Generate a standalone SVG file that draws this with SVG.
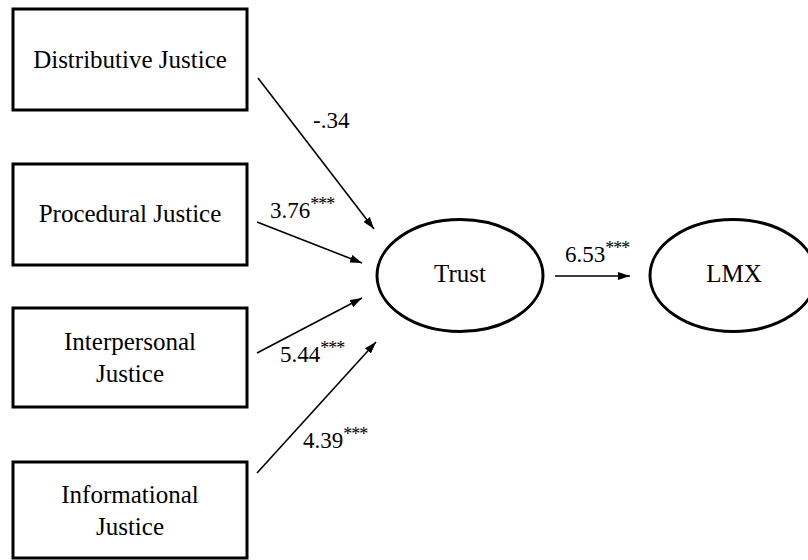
<svg xmlns="http://www.w3.org/2000/svg" width="808" height="560" viewBox="0 0 808 560">
<style>
.box{fill:#fff;stroke:#000;stroke-width:3}
.ell{fill:#fff;stroke:#000;stroke-width:3}
.t{font-family:"Liberation Serif","Times New Roman",serif;font-size:25px;fill:#000;text-anchor:middle}
.lbl{font-family:"Liberation Serif","Times New Roman",serif;font-size:23px;fill:#000}
.sup{font-size:18px;letter-spacing:-1px}
.edge{stroke:#000;stroke-width:1.6;fill:none;marker-end:url(#ah)}
</style>
<defs>
<marker id="ah" viewBox="0 0 12 8" refX="12" refY="4" markerWidth="12" markerHeight="8" markerUnits="userSpaceOnUse" orient="auto">
<path d="M0,0 L12,4 L0,8 Z" fill="#000"/>
</marker>
</defs>
<rect width="808" height="560" fill="#fff"/>
<g id="distributive"><rect class="box" x="13" y="9" width="234" height="101"/><text class="t" x="130" y="68">Distributive Justice</text></g>
<g id="procedural"><rect class="box" x="13" y="164" width="234" height="101"/><text class="t" x="130" y="222">Procedural Justice</text></g>
<g id="interpersonal"><rect class="box" x="13" y="308" width="234" height="99"/><text class="t" x="130" y="350">Interpersonal</text><text class="t" x="130" y="382">Justice</text></g>
<g id="informational"><rect class="box" x="13" y="462" width="234" height="96"/><text class="t" x="130" y="503">Informational</text><text class="t" x="130" y="535">Justice</text></g>
<g id="trust"><ellipse class="ell" cx="460" cy="275.5" rx="83" ry="56"/><text class="t" x="460" y="282">Trust</text></g>
<g id="lmx"><ellipse class="ell" cx="733" cy="275.5" rx="83" ry="56"/><text class="t" x="734" y="282">LMX</text></g>
<g id="connectors">
<line class="edge" x1="258" y1="78" x2="374" y2="229"/>
<line class="edge" x1="257" y1="222" x2="362" y2="263"/>
<line class="edge" x1="257" y1="353" x2="362" y2="298"/>
<line class="edge" x1="257" y1="473" x2="376" y2="342"/>
<line class="edge" x1="555" y1="276" x2="630" y2="276"/>
<text class="lbl" x="313" y="128">-.34</text>
<text class="lbl" x="270" y="218">3.76<tspan class="sup" dy="-8">***</tspan></text>
<text class="lbl" x="280" y="362">5.44<tspan class="sup" dy="-8">***</tspan></text>
<text class="lbl" x="303" y="448">4.39<tspan class="sup" dy="-8">***</tspan></text>
<text class="lbl" x="565" y="262">6.53<tspan class="sup" dy="-8">***</tspan></text>
</g>
</svg>
